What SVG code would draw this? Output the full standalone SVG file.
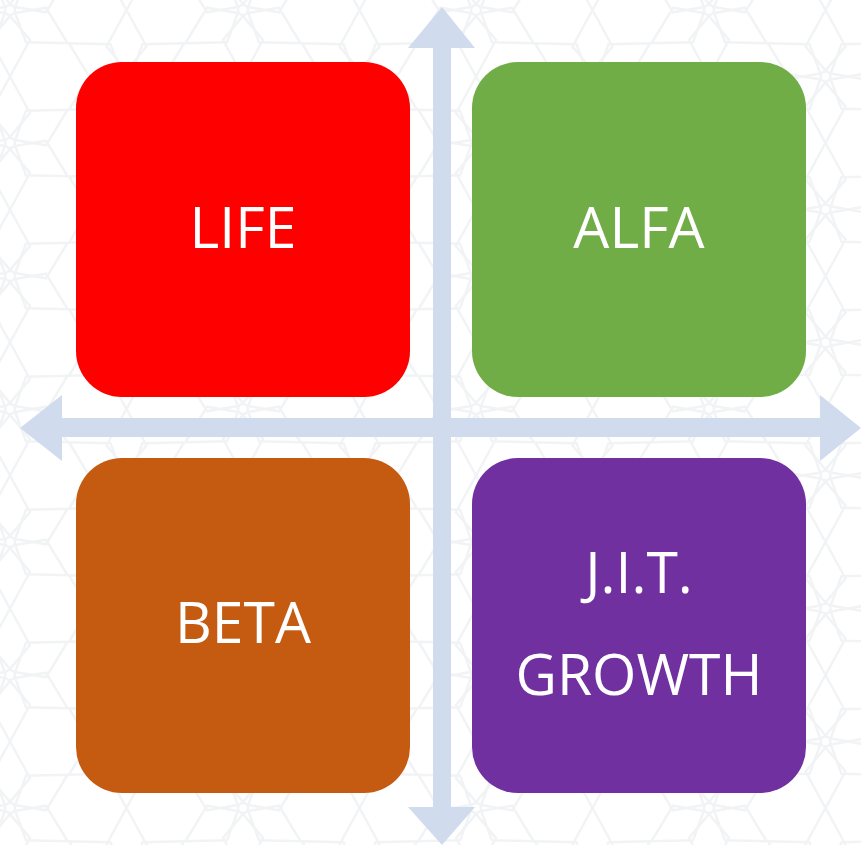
<svg xmlns="http://www.w3.org/2000/svg" width="861" height="845" viewBox="0 0 861 845">
  <style>
    .bgline { fill: none; stroke: #F1F3F5; stroke-width: 2.5; }
    .axis { fill: #D0DBED; }
    .box-label { font-family: "Open Sans", "Liberation Sans", sans-serif; font-size: 57px; fill: #FFFFFF; text-anchor: middle; }
  </style>
  <defs>
    <path id="petal" d="M6,0 L30,-20 L66.5,0 L30,20 Z"/>
    <g id="flower">
      <circle r="5"/>
      <use href="#petal" transform="rotate(30)"/>
      <use href="#petal" transform="rotate(90)"/>
      <use href="#petal" transform="rotate(150)"/>
      <use href="#petal" transform="rotate(210)"/>
      <use href="#petal" transform="rotate(270)"/>
      <use href="#petal" transform="rotate(330)"/>
    </g>
    <pattern id="bgpat" patternUnits="userSpaceOnUse" x="10" y="10" width="233" height="133">
      <g class="bgline">
        <use href="#flower" x="0" y="0"/>
        <use href="#flower" x="233" y="0"/>
        <use href="#flower" x="0" y="133"/>
        <use href="#flower" x="233" y="133"/>
        <use href="#flower" x="116.5" y="66.5"/>
      </g>
    </pattern>
  </defs>

  <rect width="861" height="845" fill="#FFFFFF"/>
  <rect width="861" height="845" fill="url(#bgpat)"/>

  <g id="connectors">
    <polygon class="axis" points="442,7 475,48 451,48 451,807 475,807 442,845 408,807 433,807 433,48 408,48"/>
    <polygon class="axis" points="20,428 62,395 62,418 820,418 820,395 861,428 820,461 820,437 62,437 62,461"/>
  </g>

  <g id="life">
    <rect x="76" y="62" width="334" height="335" rx="46" ry="46" fill="#FF0000"/>
    <text class="box-label" x="243" y="248">LIFE</text>
  </g>
  <g id="alfa">
    <rect x="472" y="62" width="334" height="335" rx="46" ry="46" fill="#70AD47"/>
    <text class="box-label" x="639" y="248">ALFA</text>
  </g>
  <g id="beta">
    <rect x="76" y="458" width="334" height="335" rx="46" ry="46" fill="#C55A11"/>
    <text class="box-label" x="243" y="643">BETA</text>
  </g>
  <g id="jit-growth">
    <rect x="472" y="458" width="334" height="335" rx="46" ry="46" fill="#7030A0"/>
    <text class="box-label" x="639" y="593">J.I.T.</text>
    <text class="box-label" x="639" y="695">GROWTH</text>
  </g>
</svg>
